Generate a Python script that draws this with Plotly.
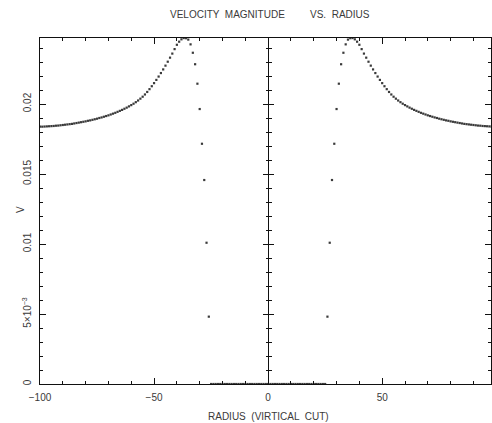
import plotly.graph_objects as go

# Velocity magnitude along the vertical cut (left half, r < 0)
left_r = list(range(-100, -25))
left_v = [
    0.01838, 0.01838, 0.01839, 0.01840, 0.01841, 0.01842, 0.01843, 0.01845, 0.01846, 0.01848,
    0.01850, 0.01852, 0.01854, 0.01856, 0.01858, 0.01861, 0.01864, 0.01867, 0.01870, 0.01873,
    0.01876, 0.01880, 0.01883, 0.01887, 0.01891, 0.01895, 0.01900, 0.01904, 0.01909, 0.01914,
    0.01919, 0.01925, 0.01931, 0.01937, 0.01944, 0.01951, 0.01958, 0.01966, 0.01974, 0.01983,
    0.01992, 0.02002, 0.02013, 0.02025, 0.02038, 0.02052, 0.02068, 0.02086, 0.02106, 0.02127,
    0.02149, 0.02172, 0.02196, 0.02221, 0.02247, 0.02274, 0.02302, 0.02331, 0.02360, 0.02392,
    0.02423, 0.02445, 0.02462, 0.02471, 0.02470, 0.02460, 0.02426, 0.02366, 0.02284, 0.02145,
    0.01964, 0.01716, 0.01457, 0.01009, 0.00481,
]

# Stagnant core: zero velocity
core_r = list(range(-25, 26))
core_v = [0.0] * len(core_r)

# Right half mirrors the left half
right_r = [-r for r in reversed(left_r)]
right_v = list(reversed(left_v))

x_ticks = [-100, -50, 0, 50]
x_labels = ["\u2212100", "\u221250", "0", "50"]
y_ticks = [0, 0.005, 0.01, 0.015, 0.02]
y_labels = ["0", "5\u00d710<sup>\u22123</sup>", "0.01", "0.015", "0.02"]

X_RANGE = [-100, 97.7]
Y_RANGE = [0, 0.024714]
ML, MR, MT, MB = 40, 1, 38, 39
W, H = 492, 423
PW, PH = W - ML - MR, H - MT - MB

FONT = dict(family="Liberation Sans, Arial, sans-serif", size=10, color="#3a3a3a")
INK = "#111111"

r_all = left_r + core_r + right_r
v_all = left_v + core_v + right_v

fig = go.Figure()
fig.add_trace(go.Scatter(
    x=r_all, y=v_all, mode="markers",
    marker=dict(size=2.2, color="#3a3a3a", symbol="square", line=dict(width=0)),
    showlegend=False, hoverinfo="x+y",
))
# empty traces so the central axis (two-sided ticks at r = 0) is drawn
fig.add_trace(go.Scatter(x=[], y=[], yaxis="y2", showlegend=False))
fig.add_trace(go.Scatter(x=[], y=[], yaxis="y3", showlegend=False))

x0_frac = (0 - X_RANGE[0]) / (X_RANGE[1] - X_RANGE[0])

common_y = dict(range=Y_RANGE, showgrid=False, zeroline=False, fixedrange=True)
center_axis = dict(
    overlaying="y", anchor="free", position=x0_frac,
    tickvals=y_ticks, showticklabels=False, showline=False,
    ticks="outside", ticklen=5, tickwidth=1, tickcolor=INK,
    minor=dict(dtick=0.001, tick0=0, ticks="outside", ticklen=2.5, tickwidth=1, tickcolor=INK, showgrid=False),
    **common_y,
)

fig.update_layout(
    width=W, height=H,
    margin=dict(l=ML, r=MR, t=MT, b=MB, pad=0),
    paper_bgcolor="white", plot_bgcolor="white",
    font=FONT,
    xaxis=dict(
        range=X_RANGE, tickvals=x_ticks, ticktext=x_labels,
        ticks="inside", ticklen=6, tickwidth=1, tickcolor=INK,
        showline=True, linecolor=INK, linewidth=1, mirror="ticks",
        minor=dict(dtick=10, tick0=0, ticks="inside", ticklen=3, tickwidth=1, tickcolor=INK, showgrid=False),
        showgrid=False, zeroline=True, zerolinecolor=INK, zerolinewidth=1,
        tickfont=FONT, ticklabelstandoff=4, fixedrange=True,
    ),
    yaxis=dict(
        tickvals=y_ticks, ticktext=y_labels, tickangle=-90,
        ticks="inside", ticklen=6, tickwidth=1, tickcolor=INK,
        showline=True, linecolor=INK, linewidth=1, mirror="ticks",
        minor=dict(dtick=0.001, tick0=0, ticks="inside", ticklen=3, tickwidth=1, tickcolor=INK, showgrid=False),
        tickfont=FONT, ticklabelstandoff=4,
        **common_y,
    ),
    yaxis2=dict(side="left", **center_axis),
    yaxis3=dict(side="right", **center_axis),
    annotations=[
        dict(text="VELOCITY  MAGNITUDE", xref="paper", yref="paper",
             x=(168 - ML) / PW, y=(H - MB - 14) / PH, xanchor="left", yanchor="middle",
             showarrow=False, font=FONT),
        dict(text="VS.  RADIUS", xref="paper", yref="paper",
             x=(308 - ML) / PW, y=(H - MB - 14) / PH, xanchor="left", yanchor="middle",
             showarrow=False, font=FONT),
        dict(text="RADIUS  (VIRTICAL  CUT)", xref="paper", yref="paper",
             x=x0_frac, y=(H - MB - 416) / PH, xanchor="center", yanchor="middle",
             showarrow=False, font=FONT),
        dict(text="V", xref="paper", yref="paper", textangle=-90,
             x=(20 - ML) / PW, y=(H - MB - 210) / PH, xanchor="center", yanchor="middle",
             showarrow=False, font=FONT),
    ],
)

fig.write_html("out.html")
